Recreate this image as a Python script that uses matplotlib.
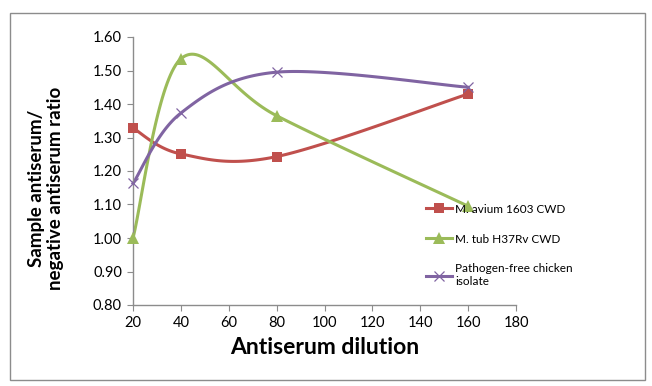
import numpy as np
import matplotlib
matplotlib.use("Agg")
import matplotlib.pyplot as plt
from matplotlib.patches import Rectangle

plt.rcParams['font.family'] = ['Lato', 'DejaVu Sans']

dilution = [20, 40, 80, 160]
avium = [1.328, 1.251, 1.243, 1.430]
tub = [1.000, 1.535, 1.365, 1.095]
chicken = [1.163, 1.373, 1.495, 1.450]
labels = ["M. avium 1603 CWD", "M. tub H37Rv CWD", "Pathogen-free chicken\nisolate"]
colors = ["#C0504D", "#9BBB59", "#8064A2"]
markers = ["s", "^", "x"]
xticks = [20, 40, 60, 80, 100, 120, 140, 160, 180]
yticks = [0.80, 0.90, 1.00, 1.10, 1.20, 1.30, 1.40, 1.50, 1.60]


def smooth(x, y, n=40):
    x = np.asarray(x, float); y = np.asarray(y, float)
    P = np.column_stack([x, y])
    out = []
    for i in range(len(P) - 1):
        p0 = P[i - 1] if i > 0 else P[i]
        p1 = P[i]; p2 = P[i + 1]
        p3 = P[i + 2] if i + 2 < len(P) else P[i + 1]
        c1 = p1 + (p2 - p0) / 6.0
        c2 = p2 - (p3 - p1) / 6.0
        t = np.linspace(0, 1, n)[:, None]
        seg = ((1 - t) ** 3) * p1 + 3 * ((1 - t) ** 2) * t * c1 + 3 * (1 - t) * t ** 2 * c2 + t ** 3 * p2
        out.append(seg if i == 0 else seg[1:])
    s = np.vstack(out)
    return s[:, 0], s[:, 1]


fig = plt.figure(figsize=(6.52, 3.86), dpi=100)
fig.patches.append(Rectangle((10 / 652, 1 - 380 / 386), 635 / 652, 367 / 386,
                             transform=fig.transFigure, fill=False,
                             edgecolor="#8c8c8c", linewidth=1.0))
ax = fig.add_axes([133 / 652, 1 - 305 / 386, (516 - 133) / 652, (305 - 37) / 386])

msize = {"s": 7, "^": 8, "x": 7}
mew = {"s": 0, "^": 0, "x": 0.9}
handles = []
for ys, lab, c, m in zip([avium, tub, chicken], labels, colors, markers):
    sx, sy = smooth(dilution, ys)
    ax.plot(sx, sy, color=c, linewidth=2.2, zorder=2, clip_on=False)
    ax.plot(dilution, ys, linestyle="none", marker=m, color=c, markersize=msize[m],
            markeredgewidth=mew[m], zorder=3, clip_on=False)
    h, = ax.plot([], [], color=c, linewidth=2.2, marker=m, markersize=msize[m],
                 markeredgewidth=mew[m], label=lab)
    handles.append(h)

ax.set_xlim(20, 180)
ax.set_ylim(0.80, 1.60)
ax.set_xticks(xticks)
ax.set_yticks(yticks)
ax.set_yticklabels([f"{v:.2f}" for v in yticks])
ax.tick_params(axis="both", labelsize=10.5, color="#8c8c8c", length=4, direction="out", pad=4)
for s in ["top", "right"]:
    ax.spines[s].set_visible(False)
for s in ["left", "bottom"]:
    ax.spines[s].set_color("#8c8c8c")
    ax.spines[s].set_linewidth(1.0)

ax.set_xlabel("Antiserum dilution", fontsize=16.5, fontweight="bold", labelpad=5)
fig.text(46 / 652, 1 - 188 / 386, "Sample antiserum/\nnegative antiserum ratio",
         rotation=90, ha="center", va="center", fontsize=13.5, fontweight="bold",
         linespacing=1.15)

leg = fig.legend(handles=handles, loc="upper left", bbox_to_anchor=(415 / 652, 1 - 193 / 386),
                 frameon=False, fontsize=8.5, handlelength=2.2, handletextpad=0.3,
                 labelspacing=1.6)

fig.savefig("out.png", dpi=100)
